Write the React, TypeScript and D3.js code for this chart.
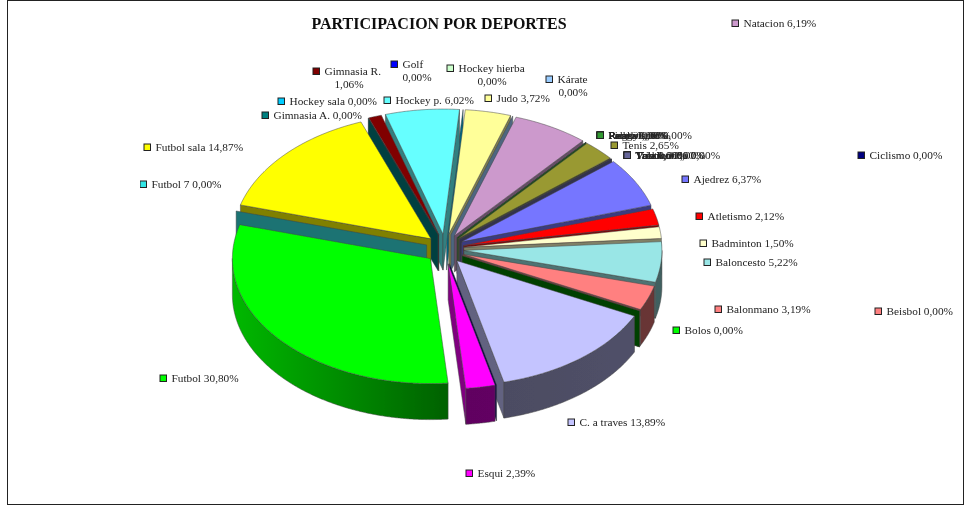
import * as d3 from 'd3';

const width = 966;
const height = 509;

const categories = [
  'Ajedrez', 'Atletismo', 'Badminton', 'Baloncesto', 'Balonmano', 'Beisbol', 'Bolos',
  'C. a traves', 'Ciclismo', 'Esqui', 'Futbol', 'Futbol 7', 'Futbol sala', 'Gimnasia A.',
  'Gimnasia R.', 'Golf', 'Hockey hierba', 'Hockey p.', 'Hockey sala', 'Judo', 'Kárate',
  'Natacion', 'Padel', 'Pelota', 'Piragüismo', 'Remo', 'Rugby', 'Tenis', 'Tiro',
  'Triatlon', 'Vela', 'Voleibol', 'Taekwondo',
];

const values = [
  6.37, 2.12, 1.5, 5.22, 3.19, 0, 0,
  13.89, 0, 2.39, 30.8, 0, 14.87, 0,
  1.06, 0, 0, 6.02, 0, 3.72, 0,
  6.19, 0, 0, 0, 0, 0, 2.65, 0,
  0, 0, 0, 0,
];

const colors = [
  '#7676ff', '#ff0000', '#ffffcc', '#99e6e6', '#ff8080', '#ff8080', '#008000',
  '#c4c4ff', '#000080', '#ff00ff', '#00ff00', '#33e6e6', '#ffff00', '#008080',
  '#800000', '#0000ff', '#ccffcc', '#66ffff', '#00ccff', '#ffff99', '#99ccff',
  '#cc99cc', '#339933', '#339933', '#339933', '#339933', '#339933', '#999933', '#666699',
  '#666699', '#666699', '#666699', '#666699',
];

const markerColors: Record<string, string> = { Bolos: '#00ff00' };

// zero slices whose wall does not show in the picture
const hiddenWalls = ['Golf', 'Hockey hierba'];

// label placement in the picture: marker x, line y, optional second line centre
const labelLayout: Record<string, [number, number, number?]> = {
  Natacion: [735, 23],
  Ciclismo: [861, 155],
  Ajedrez: [685, 179],
  Atletismo: [699, 216],
  Badminton: [703, 243],
  Baloncesto: [707, 262],
  Balonmano: [718, 309],
  Beisbol: [878, 311],
  Bolos: [676, 330],
  'C. a traves': [571, 422],
  Esqui: [469, 473],
  Futbol: [163, 378],
  'Futbol 7': [143, 184],
  'Futbol sala': [147, 147],
  'Gimnasia A.': [265, 115],
  'Hockey sala': [281, 101],
  'Gimnasia R.': [316, 71, 349],
  Golf: [394, 64, 417],
  'Hockey hierba': [450, 68, 492],
  'Hockey p.': [387, 100],
  Judo: [488, 98],
  Kárate: [549, 79, 573],
  Tenis: [614, 145],
  Padel: [600, 135],
  Pelota: [600, 135],
  Piragüismo: [600, 135],
  Remo: [600, 135],
  Rugby: [600, 135],
  Tiro: [627, 155],
  Triatlon: [627, 155],
  Vela: [627, 155],
  Voleibol: [627, 155],
  Taekwondo: [627, 155],
};

const rad = Math.PI / 180;
const firstSlice = 50 * rad;
const center = { x: 445, y: 249 };
const radiusX = 198;
const radiusY = 125;
const explodeX = 19;
const explodeY = 15;
const depth = 36;
const labelFont = '"Liberation Serif", serif';

const fmt = (v: number) => d3.format('.2f')(v).replace('.', ',') + '%';
const shade = (c: string, f: number) => d3.interpolateRgb('#000000', c)(f);

// how bright the outer wall is at a given angle
const rimLight = d3
  .scaleLinear()
  .domain([90 * rad, 180 * rad, 270 * rad])
  .range([0.42, 0.38, 0.72])
  .clamp(true);

const pie = d3
  .pie<number>()
  .sort(null)
  .startAngle(firstSlice)
  .endAngle(firstSlice + 2 * Math.PI);

const slices = pie(values).map((d, i) => {
  const mid = (d.startAngle + d.endAngle) / 2;
  return {
    ...d,
    name: categories[i],
    color: colors[i],
    mid,
    ax: center.x + explodeX * Math.sin(mid),
    ay: center.y - explodeY * Math.cos(mid),
  };
});

type Slice = (typeof slices)[number];

const rimPoint = (s: Slice, a: number, drop = 0): [number, number] => [
  s.ax + radiusX * Math.sin(a),
  s.ay - radiusY * Math.cos(a) + drop,
];

const outline = d3.line<[number, number]>().curve(d3.curveLinear);

const angleSteps = (a0: number, a1: number) => {
  const n = Math.max(2, Math.ceil((a1 - a0) / (0.4 * rad)));
  return d3.range(n + 1).map((i) => a0 + ((a1 - a0) * i) / n);
};

const topPath = (s: Slice) =>
  outline([[s.ax, s.ay], ...angleSteps(s.startAngle, s.endAngle).map((a) => rimPoint(s, a))]) + 'Z';

const edgeWall = (s: Slice, a: number) =>
  outline([[s.ax, s.ay], rimPoint(s, a), rimPoint(s, a, depth), [s.ax, s.ay + depth]]) + 'Z';

// outer wall only shows on the front half of the turn
const rimRange = (s: Slice): [number, number] | null => {
  const turn = 2 * Math.PI;
  for (const k of [0, 1]) {
    const a0 = Math.max(s.startAngle, Math.PI / 2 + k * turn);
    const a1 = Math.min(s.endAngle, (3 * Math.PI) / 2 + k * turn);
    if (a1 > a0) return [a0, a1];
  }
  return null;
};

const rimPath = (s: Slice, r: [number, number]) => {
  const steps = angleSteps(r[0], r[1]);
  return (
    outline([
      ...steps.map((a) => rimPoint(s, a)),
      ...steps.slice().reverse().map((a) => rimPoint(s, a, depth)),
    ]) + 'Z'
  );
};

const drawOrder = d3.sort(slices, (s) => -Math.cos(s.mid));

function Marker({ x, y, color }: { x: number; y: number; color: string }) {
  return <rect x={x - 3} y={y - 3} width={6.5} height={6.5} fill={color} stroke="#222" strokeWidth={1} />;
}

function Label({ name, value }: { name: string; value: number }) {
  const spot = labelLayout[name];
  if (!spot) return null;
  const [mx, my, second] = spot;
  const color = markerColors[name] ?? colors[categories.indexOf(name)];
  return (
    <g fontFamily={labelFont} fontSize={11.3} fill="#222">
      <Marker x={mx} y={my} color={color} />
      <text x={mx + 8.5} y={my + 4}>
        {second === undefined ? `${name} ${fmt(value)}` : name}
      </text>
      {second !== undefined && (
        <text x={second} y={my + 17} textAnchor="middle">
          {fmt(value)}
        </text>
      )}
    </g>
  );
}

export default function App() {
  return (
    <svg
      width={width}
      height={height}
      style={{ position: 'absolute', left: 0, top: 0, background: '#fff' }}
    >
      <defs>
        <filter id="soft" x="0" y="0" width="100%" height="100%">
          <feGaussianBlur stdDeviation={0.35} />
        </filter>
        {slices.map((s, i) => {
          const r = rimRange(s);
          if (!r) return null;
          return (
            <linearGradient key={i} id={`rim${i}`} x1="0" x2="1" y1="0" y2="0">
              <stop offset="0" stopColor={shade(s.color, rimLight(r[1] % (2 * Math.PI) || r[1]))} />
              <stop offset="1" stopColor={shade(s.color, rimLight(r[0]))} />
            </linearGradient>
          );
        })}
      </defs>
      <rect x={7.5} y={0.5} width={956} height={504} fill="#fff" stroke="#222" strokeWidth={1} />
      <g filter="url(#soft)">
        <text
          x={439}
          y={29}
          textAnchor="middle"
          fontFamily={labelFont}
          fontWeight="bold"
          fontSize={16}
          fill="#111"
        >
          PARTICIPACION POR DEPORTES
        </text>
        {drawOrder.map((s) => {
          const i = slices.indexOf(s);
          const r = rimRange(s);
          const wall = shade(s.color, 0.5);
          const hideWall = hiddenWalls.includes(s.name);
          const startShows = !hideWall && Math.sin(s.startAngle) < 0;
          const endShows = !hideWall && Math.sin(s.endAngle) > 0;
          return (
            <g key={s.name} stroke="#444" strokeWidth={0.5} strokeLinejoin="round">
              {startShows && <path d={edgeWall(s, s.startAngle)} fill={wall} />}
              {endShows && <path d={edgeWall(s, s.endAngle)} fill={wall} />}
              {r && <path d={rimPath(s, r)} fill={`url(#rim${i})`} />}
              {s.value > 0 && <path d={topPath(s)} fill={s.color} />}
            </g>
          );
        })}
        {slices.map((s) => (
          <Label key={s.name} name={s.name} value={s.value} />
        ))}
      </g>
    </svg>
  );
}
